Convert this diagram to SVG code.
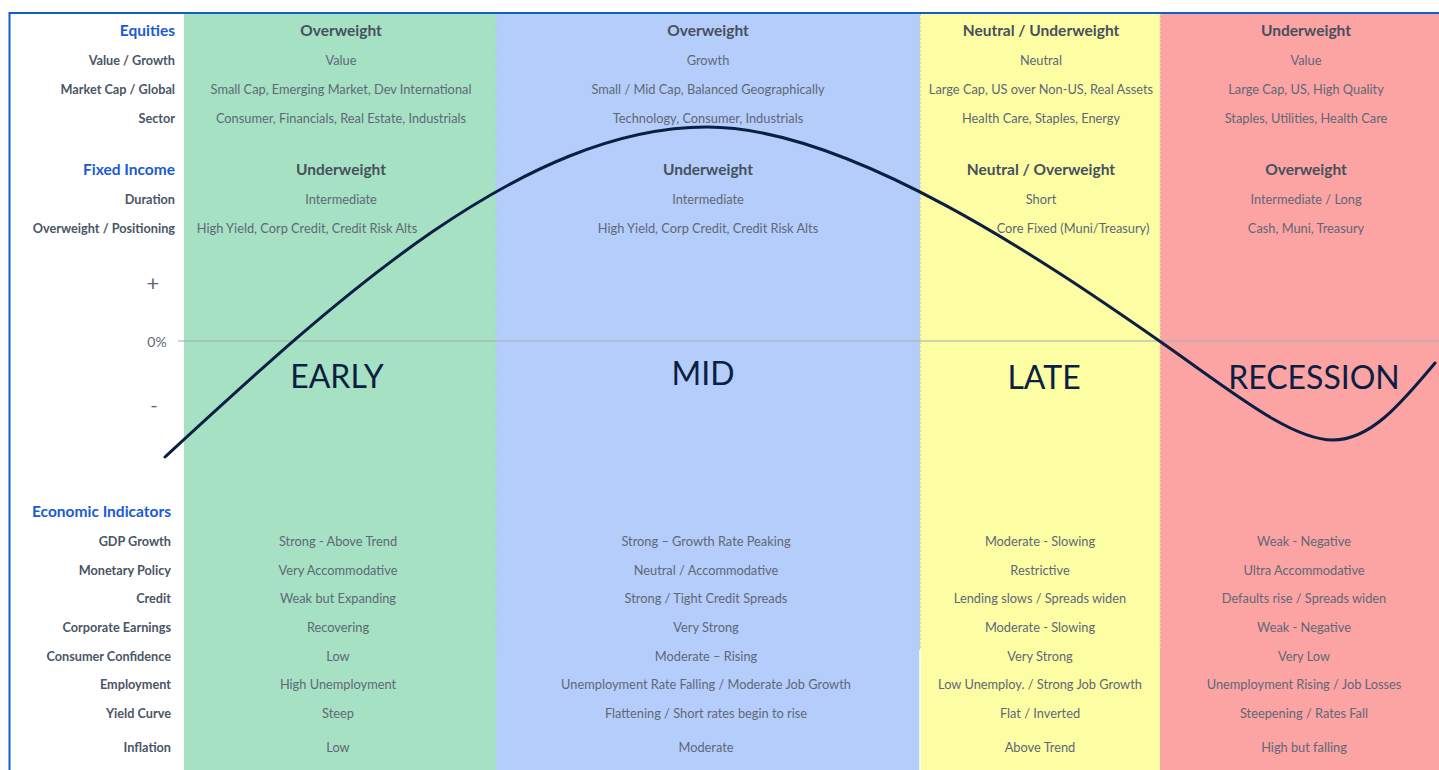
<svg xmlns="http://www.w3.org/2000/svg" width="1439" height="770" viewBox="0 0 1439 770">
<style>
.lbl{font-family:"Lato","Liberation Sans",sans-serif;font-size:12.7px;font-weight:700;fill:#4a5566;text-anchor:end}
.hdr{font-family:"Lato","Liberation Sans",sans-serif;font-size:15.5px;font-weight:700;fill:#1a5ad6;text-anchor:end}
.cat{font-family:"Lato","Liberation Sans",sans-serif;font-size:15.5px;font-weight:700;fill:#46505e;text-anchor:middle}
.val{font-family:"Lato","Liberation Sans",sans-serif;font-size:12.8px;fill:#5e6877;text-anchor:middle}
.phase{font-family:"Lato","Noto Sans",sans-serif;font-size:32px;fill:#0b1f45;text-anchor:middle}
.axis{font-family:"Lato","Liberation Sans",sans-serif;font-size:14px;fill:#5e6877;text-anchor:middle}
</style>
<rect x="0" y="0" width="1439" height="770" fill="#ffffff"/>
<g id="phase-columns">
<rect id="col-early" x="184" y="14" width="312" height="756" fill="#a6e1c3"/>
<rect id="col-mid" x="496" y="14" width="424" height="756" fill="#b5cdfa"/>
<rect id="col-late" x="920" y="14" width="240" height="756" fill="#fdfda3"/>
<rect id="col-recession" x="1160" y="14" width="279" height="756" fill="#fca3a3"/>
<line x1="920" y1="14" x2="920" y2="650" stroke="#c8c8c8" stroke-width="1.5" stroke-dasharray="2,2"/>
<line x1="920" y1="650" x2="920" y2="770" stroke="#ffffff" stroke-width="1.5"/>
<line x1="1160" y1="14" x2="1160" y2="650" stroke="#e6e0c8" stroke-width="1" stroke-dasharray="2,2"/>
<line x1="496" y1="14" x2="496" y2="650" stroke="#a9c8e8" stroke-width="1" stroke-dasharray="2,3"/>
</g>
<g id="frame">
<line x1="9" y1="13" x2="1439" y2="13" stroke="#1060c8" stroke-width="2"/>
<line x1="9.5" y1="12" x2="9.5" y2="770" stroke="#1060c8" stroke-width="2"/>
</g>
<g id="zero-line">
<line x1="178" y1="341" x2="1439" y2="341" stroke="#9fadb8" stroke-width="1.2"/>
</g>
<g id="row-labels">
<text class="hdr" x="175" y="36">Equities</text>
<text class="lbl" x="175" y="65">Value / Growth</text>
<text class="lbl" x="175" y="94">Market Cap / Global</text>
<text class="lbl" x="175" y="123">Sector</text>
<text class="hdr" x="175" y="175">Fixed Income</text>
<text class="lbl" x="175" y="204">Duration</text>
<text class="lbl" x="175" y="233">Overweight / Positioning</text>
<text class="axis" x="153" y="291" style="font-size:22px">+</text>
<text class="axis" x="157" y="347">0%</text>
<text class="axis" x="154" y="412" style="font-size:20px">-</text>
<text class="hdr" x="171" y="517">Economic Indicators</text>
<text class="lbl" x="171" y="546">GDP Growth</text>
<text class="lbl" x="171" y="575">Monetary Policy</text>
<text class="lbl" x="171" y="603">Credit</text>
<text class="lbl" x="171" y="632">Corporate Earnings</text>
<text class="lbl" x="171" y="661">Consumer Confidence</text>
<text class="lbl" x="171" y="689">Employment</text>
<text class="lbl" x="171" y="718">Yield Curve</text>
<text class="lbl" x="171" y="752">Inflation</text>
</g>
<g id="early">
<text class="cat" x="341" y="36">Overweight</text>
<text class="val" x="341" y="65">Value</text>
<text class="val" x="341" y="94">Small Cap, Emerging Market, Dev International</text>
<text class="val" x="341" y="123">Consumer, Financials, Real Estate, Industrials</text>
<text class="cat" x="341" y="175">Underweight</text>
<text class="val" x="341" y="204">Intermediate</text>
<text class="val" x="307" y="233">High Yield, Corp Credit, Credit Risk Alts</text>
<text class="phase" x="337" y="388">EARLY</text>
<text class="val" x="338" y="546">Strong  - Above Trend</text>
<text class="val" x="338" y="575">Very Accommodative</text>
<text class="val" x="338" y="603">Weak but Expanding</text>
<text class="val" x="338" y="632">Recovering</text>
<text class="val" x="338" y="661">Low</text>
<text class="val" x="338" y="689">High Unemployment</text>
<text class="val" x="338" y="718">Steep</text>
<text class="val" x="338" y="752">Low</text>
</g>
<g id="mid">
<text class="cat" x="708" y="36">Overweight</text>
<text class="val" x="708" y="65">Growth</text>
<text class="val" x="708" y="94">Small / Mid Cap, Balanced Geographically</text>
<text class="val" x="708" y="123">Technology, Consumer, Industrials</text>
<text class="cat" x="708" y="175">Underweight</text>
<text class="val" x="708" y="204">Intermediate</text>
<text class="val" x="708" y="233">High Yield, Corp Credit, Credit Risk Alts</text>
<text class="phase" x="703" y="385">MID</text>
<text class="val" x="706" y="546">Strong – Growth Rate Peaking</text>
<text class="val" x="706" y="575">Neutral / Accommodative</text>
<text class="val" x="706" y="603">Strong / Tight Credit Spreads</text>
<text class="val" x="706" y="632">Very Strong</text>
<text class="val" x="706" y="661">Moderate – Rising</text>
<text class="val" x="706" y="689">Unemployment Rate Falling / Moderate Job Growth</text>
<text class="val" x="706" y="718">Flattening / Short rates begin to rise</text>
<text class="val" x="706" y="752">Moderate</text>
</g>
<g id="late">
<text class="cat" x="1041" y="36">Neutral / Underweight</text>
<text class="val" x="1041" y="65">Neutral</text>
<text class="val" x="1041" y="94">Large Cap, US over Non-US, Real Assets</text>
<text class="val" x="1041" y="123">Health Care, Staples, Energy</text>
<text class="cat" x="1041" y="175">Neutral / Overweight</text>
<text class="val" x="1041" y="204">Short</text>
<text class="val" x="1073" y="233">Core Fixed (Muni/Treasury)</text>
<text class="phase" x="1044" y="389">LATE</text>
<text class="val" x="1040" y="546">Moderate - Slowing</text>
<text class="val" x="1040" y="575">Restrictive</text>
<text class="val" x="1040" y="603">Lending slows / Spreads widen</text>
<text class="val" x="1040" y="632">Moderate - Slowing</text>
<text class="val" x="1040" y="661">Very Strong</text>
<text class="val" x="1040" y="689">Low Unemploy. / Strong Job Growth</text>
<text class="val" x="1040" y="718">Flat / Inverted</text>
<text class="val" x="1040" y="752">Above Trend</text>
</g>
<g id="recession">
<text class="cat" x="1306" y="36">Underweight</text>
<text class="val" x="1306" y="65">Value</text>
<text class="val" x="1306" y="94">Large Cap, US, High Quality</text>
<text class="val" x="1306" y="123">Staples, Utilities, Health Care</text>
<text class="cat" x="1306" y="175">Overweight</text>
<text class="val" x="1306" y="204">Intermediate / Long</text>
<text class="val" x="1306" y="233">Cash, Muni, Treasury</text>
<text class="phase" x="1314" y="389">RECESSION</text>
<text class="val" x="1304" y="546">Weak - Negative</text>
<text class="val" x="1304" y="575">Ultra Accommodative</text>
<text class="val" x="1304" y="603">Defaults rise / Spreads widen</text>
<text class="val" x="1304" y="632">Weak - Negative</text>
<text class="val" x="1304" y="661">Very Low</text>
<text class="val" x="1304" y="689">Unemployment Rising / Job Losses</text>
<text class="val" x="1304" y="718">Steepening / Rates Fall</text>
<text class="val" x="1304" y="752">High but falling</text>
</g>
<g id="connectors">
<path id="cycle-curve" d="M165,457 C330,305 520,127 707,127 C850,127 1050,265 1158,340 C1230,390 1290,440 1333,440 C1370,440 1400,405 1435,363" fill="none" stroke="#0b1f45" stroke-width="3" stroke-linecap="round"/>
</g>
</svg>
